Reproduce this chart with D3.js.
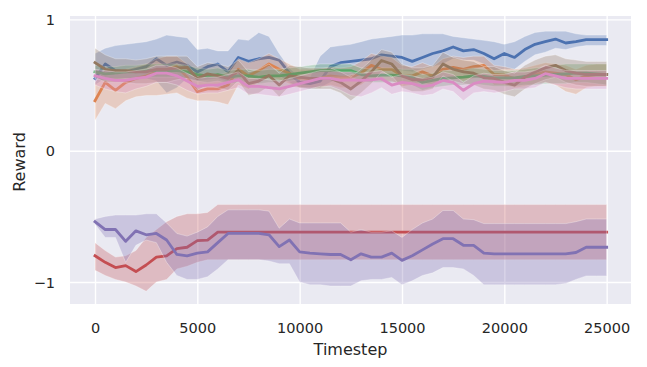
<!DOCTYPE html>
<html>
<head>
<meta charset="utf-8">
<script src="https://cdn.jsdelivr.net/npm/d3@7"></script>
<style>
  body { margin: 0; background: #fff; }
  svg text { font-family: "DejaVu Sans", sans-serif; fill: #262626; }
</style>
</head>
<body>
<div id="chart"></div>
<script>
var timesteps = [0, 500, 1000, 1500, 2000, 2500, 3000, 3500, 4000, 4500,
  5000, 5500, 6000, 6500, 7000, 7500, 8000, 8500, 9000, 9500,
  10000, 10500, 11000, 11500, 12000, 12500, 13000, 13500, 14000, 14500,
  15000, 15500, 16000, 16500, 17000, 17500, 18000, 18500, 19000, 19500,
  20000, 20500, 21000, 21500, 22000, 22500, 23000, 23500, 24000, 24500, 25000];

var xTicks = [0, 5000, 10000, 15000, 20000, 25000];
var yTicks = [-1, 0, 1];

// seaborn "deep" colours, in plotting order
var seriesNames = ["blue", "orange", "green", "red", "purple", "brown", "pink"];
var seriesColours = ["#4c72b0", "#dd8452", "#55a868", "#c44e52", "#8172b3", "#937860", "#da8bc3"];

var blueMean = [0.55,0.66,0.61,0.60,0.62,0.64,0.70,0.65,0.675,0.65, 0.60,0.64,0.66,0.60,0.71,0.68,0.70,0.71,0.69,0.59, 0.52,0.51,0.53,0.64,0.67,0.68,0.69,0.70,0.73,0.72, 0.71,0.68,0.71,0.74,0.76,0.79,0.76,0.77,0.74,0.70, 0.74,0.71,0.77,0.81,0.83,0.85,0.82,0.83,0.845,0.845,0.845];
var blueUpper = [0.74,0.78,0.80,0.81,0.82,0.83,0.85,0.88,0.87,0.86, 0.77,0.78,0.76,0.76,0.85,0.84,0.90,0.87,0.74,0.63, 0.56,0.56,0.72,0.79,0.80,0.81,0.83,0.85,0.86,0.87, 0.88,0.88,0.89,0.89,0.89,0.87,0.86,0.85,0.84,0.83, 0.81,0.83,0.87,0.90,0.91,0.91,0.91,0.89,0.88,0.88,0.88];
var blueLower = [0.50,0.55,0.55,0.55,0.55,0.55,0.53,0.44,0.48,0.55, 0.53,0.54,0.55,0.52,0.57,0.55,0.57,0.58,0.57,0.52, 0.48,0.47,0.48,0.52,0.56,0.58,0.60,0.62,0.63,0.62, 0.61,0.60,0.62,0.64,0.66,0.70,0.69,0.69,0.66,0.61, 0.62,0.62,0.68,0.73,0.75,0.78,0.77,0.79,0.80,0.80,0.80];

var orangeMean = [0.38,0.52,0.46,0.52,0.55,0.57,0.60,0.62,0.64,0.56, 0.45,0.47,0.47,0.50,0.62,0.57,0.61,0.66,0.62,0.59, 0.55,0.55,0.55,0.57,0.56,0.56,0.59,0.65,0.62,0.62, 0.57,0.57,0.60,0.57,0.62,0.635,0.62,0.64,0.65,0.58, 0.575,0.55,0.56,0.58,0.60,0.59,0.58,0.54,0.57,0.58,0.58];
var orangeUpper = [0.52,0.62,0.58,0.62,0.64,0.66,0.70,0.72,0.72,0.66, 0.56,0.57,0.57,0.60,0.70,0.67,0.70,0.74,0.70,0.66, 0.62,0.62,0.62,0.64,0.63,0.64,0.68,0.74,0.72,0.71, 0.65,0.64,0.67,0.64,0.70,0.72,0.71,0.72,0.72,0.65, 0.64,0.62,0.63,0.65,0.67,0.66,0.65,0.62,0.65,0.66,0.66];
var orangeLower = [0.23,0.36,0.32,0.38,0.41,0.42,0.42,0.43,0.44,0.40, 0.38,0.38,0.37,0.35,0.50,0.47,0.52,0.56,0.54,0.51, 0.48,0.48,0.48,0.50,0.48,0.48,0.50,0.56,0.53,0.53, 0.49,0.50,0.52,0.49,0.53,0.55,0.53,0.55,0.57,0.50, 0.50,0.48,0.49,0.51,0.52,0.50,0.45,0.43,0.48,0.49,0.49];

var greenMean = [0.60,0.585,0.59,0.60,0.60,0.61,0.61,0.61,0.61,0.60, 0.58,0.57,0.58,0.56,0.57,0.57,0.56,0.57,0.57,0.58, 0.59,0.60,0.61,0.61,0.61,0.61,0.58,0.57,0.575,0.575, 0.57,0.56,0.52,0.535,0.55,0.555,0.56,0.57,0.565,0.555, 0.555,0.555,0.565,0.57,0.575,0.58,0.585,0.59,0.59,0.585,0.58];
var greenUpper = [0.65,0.64,0.64,0.65,0.65,0.66,0.66,0.66,0.66,0.65, 0.63,0.62,0.63,0.61,0.62,0.62,0.61,0.62,0.62,0.63, 0.64,0.65,0.66,0.66,0.66,0.66,0.63,0.62,0.63,0.63, 0.62,0.62,0.58,0.59,0.61,0.61,0.62,0.63,0.62,0.61, 0.61,0.61,0.62,0.63,0.64,0.65,0.66,0.66,0.66,0.66,0.66];
var greenLower = [0.55,0.53,0.54,0.55,0.55,0.56,0.56,0.56,0.56,0.55, 0.53,0.52,0.53,0.51,0.52,0.52,0.51,0.52,0.52,0.53, 0.54,0.55,0.56,0.56,0.56,0.56,0.53,0.52,0.52,0.52, 0.52,0.50,0.46,0.48,0.49,0.50,0.50,0.51,0.50,0.49, 0.49,0.49,0.50,0.50,0.51,0.51,0.51,0.52,0.52,0.51,0.50];

var redMean = [-0.80,-0.85,-0.89,-0.875,-0.92,-0.87,-0.81,-0.80,-0.745,-0.735, -0.685,-0.68,-0.62,-0.62,-0.62,-0.62,-0.62,-0.62,-0.62,-0.62, -0.62,-0.62,-0.62,-0.62,-0.62,-0.62,-0.62,-0.62,-0.62,-0.62, -0.62,-0.62,-0.62,-0.62,-0.62,-0.62,-0.62,-0.62,-0.62,-0.62, -0.62,-0.62,-0.62,-0.62,-0.62,-0.62,-0.62,-0.62,-0.62,-0.62,-0.62];
var redUpper = [-0.70,-0.76,-0.81,-0.80,-0.76,-0.66,-0.60,-0.54,-0.50,-0.48, -0.48,-0.47,-0.41,-0.41,-0.41,-0.41,-0.41,-0.41,-0.41,-0.41, -0.41,-0.41,-0.41,-0.41,-0.41,-0.41,-0.41,-0.41,-0.41,-0.41, -0.41,-0.41,-0.41,-0.41,-0.41,-0.41,-0.41,-0.41,-0.41,-0.41, -0.41,-0.41,-0.41,-0.41,-0.41,-0.41,-0.41,-0.41,-0.41,-0.41,-0.41];
var redLower = [-0.91,-0.95,-0.98,-1.00,-1.03,-1.07,-1.00,-0.98,-0.90,-0.88, -0.85,-0.83,-0.83,-0.83,-0.83,-0.83,-0.83,-0.83,-0.83,-0.83, -0.83,-0.83,-0.83,-0.83,-0.83,-0.83,-0.83,-0.83,-0.83,-0.83, -0.83,-0.83,-0.83,-0.83,-0.83,-0.83,-0.83,-0.83,-0.83,-0.83, -0.83,-0.83,-0.83,-0.83,-0.83,-0.83,-0.83,-0.83,-0.83,-0.83,-0.83];

var purpleMean = [-0.54,-0.60,-0.60,-0.69,-0.61,-0.64,-0.63,-0.68,-0.79,-0.80, -0.78,-0.77,-0.70,-0.63,-0.63,-0.63,-0.63,-0.64,-0.73,-0.68, -0.77,-0.78,-0.785,-0.79,-0.79,-0.83,-0.785,-0.81,-0.81,-0.78, -0.835,-0.80,-0.755,-0.71,-0.67,-0.67,-0.72,-0.72,-0.78,-0.785, -0.785,-0.785,-0.785,-0.785,-0.785,-0.785,-0.785,-0.775,-0.735,-0.735,-0.735];
var purpleUpper = [-0.52,-0.50,-0.49,-0.49,-0.49,-0.48,-0.48,-0.55,-0.63,-0.65, -0.62,-0.58,-0.50,-0.45,-0.45,-0.45,-0.45,-0.46,-0.59,-0.52, -0.55,-0.55,-0.55,-0.55,-0.55,-0.62,-0.60,-0.62,-0.62,-0.61, -0.66,-0.60,-0.55,-0.52,-0.455,-0.455,-0.52,-0.525,-0.555,-0.555, -0.555,-0.555,-0.555,-0.555,-0.555,-0.555,-0.555,-0.54,-0.52,-0.52,-0.52];
var purpleLower = [-0.56,-0.66,-0.66,-0.85,-0.72,-0.68,-0.70,-0.85,-0.95,-0.98, -0.98,-0.96,-0.90,-0.83,-0.83,-0.83,-0.83,-0.84,-0.86,-0.86, -1.00,-1.02,-1.02,-1.03,-1.03,-1.03,-0.99,-0.98,-0.98,-0.965, -1.02,-0.99,-0.95,-0.93,-0.89,-0.89,-0.90,-0.95,-1.02,-1.02, -1.02,-1.02,-1.02,-1.02,-1.02,-1.02,-1.01,-0.98,-0.953,-0.953,-0.953];

var brownMean = [0.67,0.62,0.61,0.61,0.60,0.60,0.62,0.62,0.63,0.635, 0.55,0.585,0.57,0.55,0.61,0.51,0.53,0.573,0.50,0.57, 0.56,0.55,0.55,0.55,0.52,0.47,0.53,0.60,0.687,0.66, 0.57,0.54,0.54,0.56,0.66,0.62,0.60,0.59,0.555,0.55, 0.52,0.50,0.56,0.60,0.63,0.65,0.61,0.59,0.58,0.58,0.58];
var brownUpper = [0.78,0.73,0.70,0.70,0.69,0.70,0.72,0.72,0.72,0.72, 0.64,0.67,0.66,0.64,0.69,0.60,0.62,0.66,0.59,0.65, 0.64,0.63,0.63,0.63,0.60,0.56,0.62,0.69,0.77,0.75, 0.66,0.63,0.63,0.65,0.75,0.71,0.69,0.68,0.64,0.64, 0.61,0.59,0.65,0.69,0.72,0.73,0.70,0.69,0.68,0.68,0.68];
var brownLower = [0.56,0.52,0.52,0.52,0.51,0.51,0.52,0.52,0.54,0.55, 0.46,0.50,0.48,0.46,0.53,0.42,0.44,0.49,0.41,0.49, 0.48,0.47,0.47,0.47,0.44,0.38,0.44,0.51,0.60,0.57, 0.48,0.45,0.45,0.47,0.57,0.53,0.51,0.50,0.47,0.46, 0.43,0.41,0.47,0.51,0.54,0.56,0.52,0.50,0.49,0.49,0.49];

var pinkMean = [0.57,0.55,0.535,0.535,0.55,0.56,0.59,0.59,0.57,0.53, 0.49,0.50,0.50,0.52,0.54,0.49,0.49,0.48,0.47,0.49, 0.51,0.53,0.55,0.55,0.535,0.54,0.535,0.54,0.548,0.50, 0.52,0.51,0.49,0.50,0.535,0.52,0.46,0.51,0.53,0.525, 0.52,0.535,0.535,0.55,0.586,0.57,0.55,0.55,0.55,0.55,0.55];
var pinkUpper = [0.62,0.61,0.60,0.60,0.61,0.62,0.65,0.65,0.63,0.59, 0.55,0.56,0.56,0.58,0.60,0.55,0.55,0.54,0.53,0.55, 0.57,0.59,0.61,0.61,0.60,0.60,0.59,0.60,0.61,0.56, 0.58,0.57,0.55,0.56,0.60,0.58,0.52,0.57,0.59,0.58, 0.58,0.60,0.60,0.61,0.65,0.63,0.61,0.61,0.61,0.61,0.61];
var pinkLower = [0.50,0.47,0.45,0.44,0.47,0.49,0.52,0.52,0.50,0.46, 0.43,0.44,0.44,0.46,0.48,0.43,0.43,0.42,0.41,0.43, 0.45,0.47,0.49,0.49,0.46,0.42,0.41,0.44,0.48,0.43, 0.45,0.44,0.42,0.43,0.47,0.45,0.38,0.44,0.45,0.44, 0.45,0.47,0.47,0.48,0.52,0.50,0.48,0.47,0.47,0.47,0.47];

var width = 647, height = 367,
    margin = {top: 16, right: 16, bottom: 63, left: 70};

var series = [
  {mean: blueMean, lo: blueLower, hi: blueUpper},
  {mean: orangeMean, lo: orangeLower, hi: orangeUpper},
  {mean: greenMean, lo: greenLower, hi: greenUpper},
  {mean: redMean, lo: redLower, hi: redUpper},
  {mean: purpleMean, lo: purpleLower, hi: purpleUpper},
  {mean: brownMean, lo: brownLower, hi: brownUpper},
  {mean: pinkMean, lo: pinkLower, hi: pinkUpper}
].map(function(s, k) {
  s.name = seriesNames[k];
  s.colour = seriesColours[k];
  s.points = timesteps.map(function(t, i) {
    return {t: t, m: s.mean[i], lo: s.lo[i], hi: s.hi[i]};
  });
  return s;
});

var x = d3.scaleLinear()
  .domain([-1221, 26189])
  .range([margin.left, width - margin.right]);

var y = d3.scaleLinear()
  .domain([-1.167, 1.0255])
  .range([height - margin.bottom, margin.top]);

var svg = d3.select("#chart")
  .append("svg")
  .attr("width", width)
  .attr("height", height);

svg.append("rect")
  .attr("x", margin.left)
  .attr("y", margin.top)
  .attr("width", width - margin.left - margin.right)
  .attr("height", height - margin.top - margin.bottom)
  .attr("fill", "#eaeaf2");

svg.append("clipPath")
  .attr("id", "plotclip")
  .append("rect")
  .attr("x", margin.left)
  .attr("y", margin.top)
  .attr("width", width - margin.left - margin.right)
  .attr("height", height - margin.top - margin.bottom);

// grid
var xAxis = svg.append("g")
  .attr("transform", "translate(0," + (height - margin.bottom) + ")")
  .call(d3.axisBottom(x).tickValues(xTicks).tickSize(-(height - margin.top - margin.bottom)).tickPadding(15).tickFormat(d3.format("d")));

var yAxis = svg.append("g")
  .attr("transform", "translate(" + margin.left + ",0)")
  .call(d3.axisLeft(y).tickValues(yTicks).tickSize(-(width - margin.left - margin.right)).tickPadding(15)
    .tickFormat(function(d) { return d < 0 ? "\u2212" + Math.abs(d) : d; }));

[xAxis, yAxis].forEach(function(ax) {
  ax.select(".domain").remove();
  ax.selectAll(".tick line").attr("stroke", "#fff").attr("stroke-width", 1.4);
  ax.selectAll(".tick text").attr("font-size", "14.5px").attr("font-family", "DejaVu Sans").attr("fill", "#262626");
});

xAxis.selectAll(".tick text").attr("y", 0).attr("dy", null).attr("transform", "translate(0,28.5)");
yAxis.selectAll(".tick text").attr("x", -15).attr("dy", "0.36em");

var area = d3.area()
  .x(function(d) { return x(d.t); })
  .y0(function(d) { return y(d.lo); })
  .y1(function(d) { return y(d.hi); });

var line = d3.line()
  .x(function(d) { return x(d.t); })
  .y(function(d) { return y(d.m); });

var plot = svg.append("g").attr("clip-path", "url(#plotclip)");

series.forEach(function(s) {
  plot.append("path")
    .datum(s.points)
    .attr("fill", s.colour)
    .attr("fill-opacity", 0.3)
    .attr("stroke", "#fff")
    .attr("stroke-opacity", 0.3)
    .attr("stroke-width", 1)
    .attr("d", area);

  plot.append("path")
    .datum(s.points)
    .attr("fill", "none")
    .attr("stroke", s.colour)
    .attr("stroke-width", 2.8)
    .attr("stroke-linejoin", "round")
    .attr("stroke-linecap", "square")
    .attr("d", line);
});

svg.append("text")
  .attr("x", (margin.left + width - margin.right) / 2)
  .attr("y", 354.5)
  .attr("text-anchor", "middle")
  .attr("font-size", "16px")
  .text("Timestep");

svg.append("text")
  .attr("transform", "translate(25," + 162 + ") rotate(-90)")
  .attr("text-anchor", "middle")
  .attr("font-size", "16px")
  .text("Reward");
</script>
</body>
</html>
